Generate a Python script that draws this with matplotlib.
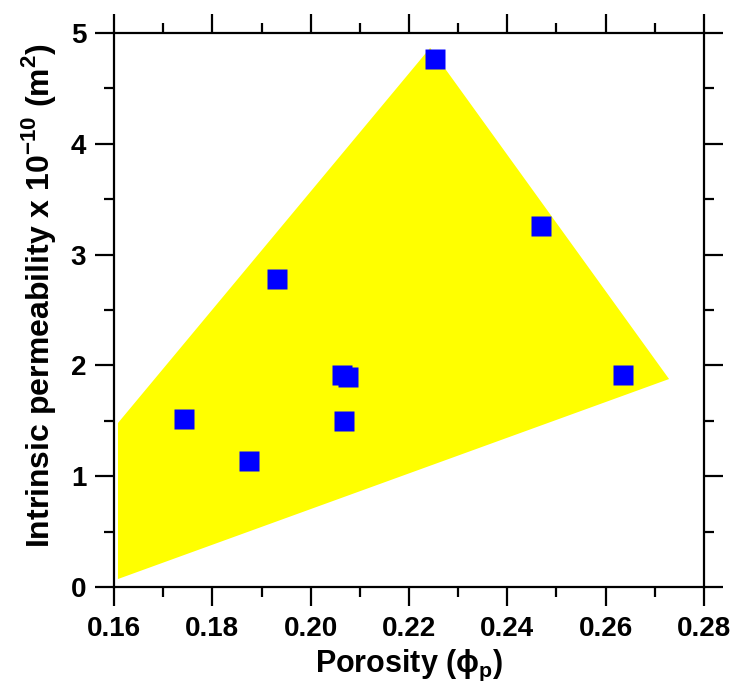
import matplotlib
matplotlib.use("Agg")
import matplotlib.pyplot as plt
from matplotlib.ticker import MultipleLocator
from matplotlib.patches import Polygon

plt.rcParams['font.family'] = ['Liberation Sans', 'DejaVu Sans']
plt.rcParams['font.weight'] = 'bold'

# data
porosity = [0.1742, 0.1875, 0.1931, 0.2064, 0.2076, 0.2068, 0.2252, 0.2468, 0.2635]
permeability = [1.516, 1.137, 2.78, 1.913, 1.895, 1.498, 4.765, 3.258, 1.913]
region_x = [0.1608, 0.2243, 0.2729, 0.1608]
region_y = [1.48, 4.865, 1.877, 0.072]
x_ticks = [0.16, 0.18, 0.20, 0.22, 0.24, 0.26, 0.28]
y_ticks = [0, 1, 2, 3, 4, 5]

fig = plt.figure(figsize=(7.39, 6.84), dpi=100)
ax = fig.add_axes([0.1543, 0.1418, 0.7983, 0.81])

ax.add_patch(Polygon(list(zip(region_x, region_y)), closed=True,
                     facecolor='#ffff00', edgecolor='none', zorder=1))
ax.plot(porosity, permeability, linestyle='none', marker='s', markersize=14,
        markerfacecolor='#0000ff', markeredgecolor='none', zorder=3)

ax.set_xlim(0.16, 0.28)
ax.set_ylim(0, 5)
ax.set_xticks(x_ticks)
ax.set_xticklabels([f"{v:.2f}" for v in x_ticks])
ax.set_yticks(y_ticks)
ax.set_yticklabels([str(v) for v in y_ticks])
ax.xaxis.set_minor_locator(MultipleLocator(0.01))
ax.yaxis.set_minor_locator(MultipleLocator(0.5))

for s in ax.spines.values():
    s.set_linewidth(1.6)
ax.tick_params(which='major', direction='out', length=14, width=1.6,
               labelsize=20, top=True, right=True, labeltop=False, labelright=False)
ax.tick_params(which='minor', direction='out', length=7, width=1.6,
               top=True, right=True)
ax.tick_params(axis='x', which='major', pad=7)
ax.tick_params(axis='y', which='major', pad=6)
for lab in ax.get_xticklabels() + ax.get_yticklabels():
    lab.set_fontweight('bold')

ax.set_xlabel(r"Porosity (ϕ$_\mathregular{p}$)", fontsize=22, fontweight='bold')
ax.set_ylabel(r"Intrinsic permeability x 10$^\mathregular{-10}$ (m$^\mathregular{2}$)",
              fontsize=23, fontweight='bold')
ax.xaxis.set_label_coords(0.5, -0.11)
ax.yaxis.set_label_coords(-0.095, 0.527)

fig.savefig("out.png", dpi=100)
